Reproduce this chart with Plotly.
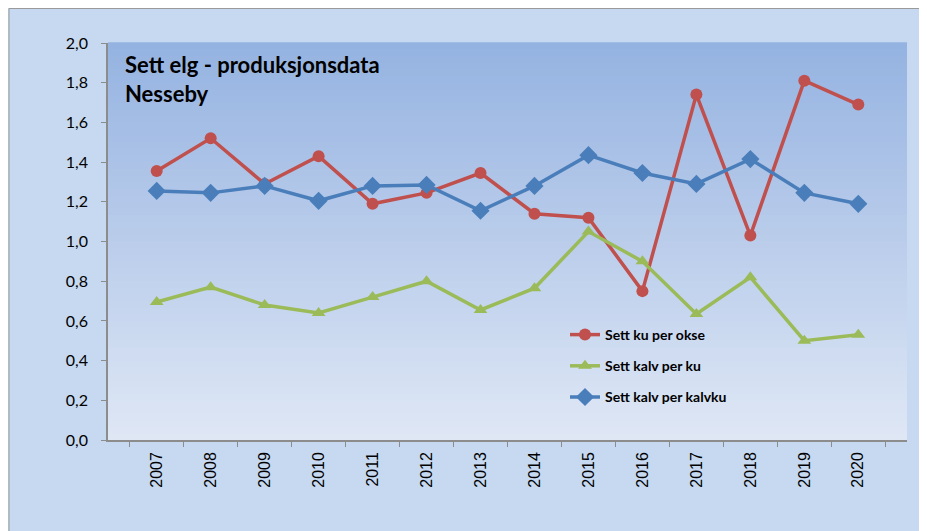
import plotly.graph_objects as go

years = [str(y) for y in range(2007, 2021)]
ku_per_okse = [1.355, 1.52, 1.29, 1.43, 1.19, 1.245, 1.345, 1.14, 1.12, 0.75, 1.74, 1.03, 1.81, 1.69]
kalv_per_ku = [0.695, 0.77, 0.68, 0.64, 0.72, 0.80, 0.655, 0.765, 1.05, 0.90, 0.635, 0.82, 0.50, 0.53]
kalv_per_kalvku = [1.255, 1.245, 1.28, 1.205, 1.28, 1.285, 1.155, 1.28, 1.435, 1.345, 1.29, 1.415, 1.245, 1.19]
y_ticks = [0, 0.2, 0.4, 0.6, 0.8, 1.0, 1.2, 1.4, 1.6, 1.8, 2.0]

# page puts the figure 8px in from the top-left corner
W, H = 927, 531
L, R, T, B = 100, 28, 35, 99
pw, ph = W - L - R, H - T - B

fig = go.Figure()
fig.add_trace(go.Scatter(x=years, y=ku_per_okse, name="Sett ku per okse", mode="lines+markers",
                         line=dict(color="#C0504D", width=3.5), marker=dict(symbol="circle", size=12),
                         legendgroup="a"))
fig.add_trace(go.Scatter(x=years, y=kalv_per_ku, name="Sett kalv per ku", mode="lines+markers",
                         line=dict(color="#9BBB59", width=3.5), marker=dict(symbol="triangle-up", size=12),
                         legendgroup="b"))
fig.add_trace(go.Scatter(x=years, y=kalv_per_kalvku, name="Sett kalv per kalvku", mode="lines+markers",
                         line=dict(color="#4A7EBB", width=3.5), marker=dict(symbol="diamond", size=14),
                         legendgroup="c"))

# outer chart box
shapes = [dict(type="rect", xref="paper", yref="paper", layer="below",
               x0=(1 - L) / pw, x1=(W + 20 - L) / pw, y0=-(B + 20) / ph, y1=(H - B - 0.5) / ph,
               fillcolor="#C6D9F0", line=dict(color="#9A9A9A", width=1))]
# gradient plot area
top, bot = (149, 179, 225), (223, 231, 245)
n = 60
for i in range(n):
    t = i / (n - 1)
    c = tuple(round(bot[k] + (top[k] - bot[k]) * t) for k in range(3))
    shapes.append(dict(type="rect", xref="paper", yref="paper", layer="below",
                       x0=0, x1=1, y0=i / n, y1=(i + 1) / n + 0.002,
                       fillcolor="rgb(%d,%d,%d)" % c, line=dict(width=0)))

fig.update_layout(
    width=W, height=H,
    margin=dict(l=L, r=R, t=T, b=B),
    paper_bgcolor="#C6D9F0",
    plot_bgcolor="rgba(0,0,0,0)",
    separators=", ",
    shapes=shapes,
    showlegend=True,
    legend=dict(x=(557 - L) / pw, y=(H - B - 311) / ph, xanchor="left", yanchor="top",
                bgcolor="rgba(0,0,0,0)", tracegroupgap=10,
                font=dict(family="Lato", size=14, color="black", weight="bold")),
    annotations=[dict(text="<b>Sett elg - produksjonsdata<br>Nesseby</b>", xref="paper", yref="paper",
                      x=(115 - L) / pw, y=(H - B - 41) / ph, xanchor="left", yanchor="top",
                      align="left", showarrow=False,
                      font=dict(family="Lato", size=22, color="black"))],
    xaxis=dict(type="category", tickson="boundaries", ticks="outside", ticklen=5,
               tickcolor="#8C8C8C", showline=True, linecolor="#8C8C8C", linewidth=1.5,
               showgrid=False, tickangle=-90, ticklabelstandoff=4,
               tickfont=dict(family="Liberation Sans", size=16, color="black")),
    yaxis=dict(range=[0, 2], tickvals=y_ticks, tickformat=".1f", ticks="outside", ticklen=5,
               tickcolor="#8C8C8C", showline=True, linecolor="#8C8C8C", linewidth=1.5,
               showgrid=False, zeroline=False, ticklabelstandoff=10,
               tickfont=dict(family="Lato", size=16, color="black")),
)

# hide scrollbars so the blue box runs to the window edge
fig.write_html("out.html",
               post_script="document.documentElement.style.overflow='hidden';document.body.style.overflow='hidden';")
